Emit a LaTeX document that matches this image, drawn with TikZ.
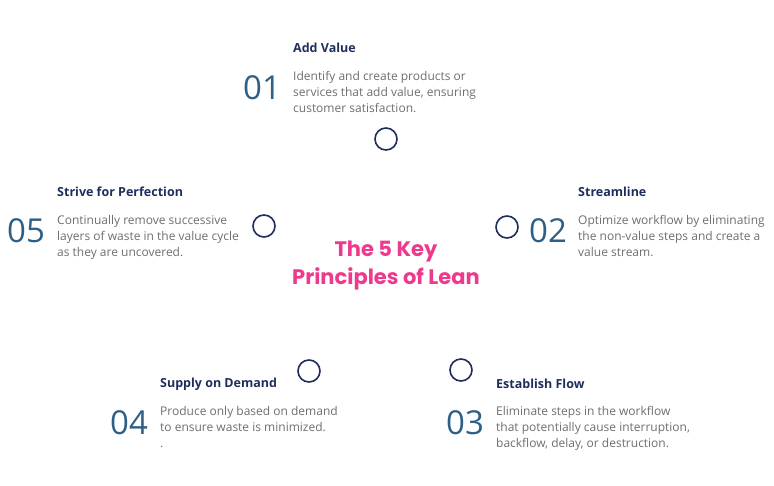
\documentclass[tikz,border=0pt]{standalone}
\usepackage{fontspec}
\setmainfont{Open Sans}
\newfontfamily\titlefont{Poppins}
\usetikzlibrary{positioning}
\definecolor{navy}{HTML}{1F2D5E}
\definecolor{numblue}{HTML}{2E5F86}
\definecolor{bodygray}{HTML}{6E6E6E}
\definecolor{leanpink}{HTML}{EE3A8C}
\pgfdeclareradialshading{ball}{\pgfpoint{0bp}{0bp}}{color(0bp)=(white); color(30bp)=(white); color(40bp)=(navy!25); color(46bp)=(navy!70); color(50bp)=(navy)}
\begin{document}
\begin{tikzpicture}[x=1pt,y=-1pt,
  head/.style={anchor=west,font=\bfseries\fontsize{12.5}{14}\selectfont,text=navy,inner sep=0pt},
  num/.style={anchor=west,font=\fontsize{33}{33}\selectfont,text=numblue,inner sep=0pt},
  body/.style={anchor=north west,align=left,font=\fontsize{12}{16}\selectfont,text=bodygray,inner sep=0pt},
  dot/.style={circle,draw=navy,line width=1.6pt,fill=white,minimum size=22pt,inner sep=0pt}]
  \useasboundingbox (0,0) rectangle (774,486);
  \node (ring) [circle,minimum size=258pt,inner sep=0pt,shade,shading=ball] at (386.5,267.5) {};
  \node (title) [align=center,font=\titlefont\bfseries\fontsize{21}{28}\selectfont,text=leanpink] at (386,266) {The 5 Key\\Principles of Lean};
  % markers on the ring
  \node (d1) [dot] at (386,139) {};
  \node (d2) [dot] at (507,227) {};
  \node (d3) [dot] at (461,370) {};
  \node (d4) [dot] at (309,371) {};
  \node (d5) [dot] at (264,226) {};
  % 01
  \node (h1) [head] at (293,48) {Add Value};
  \node (n1) [num] at (243,88) {01};
  \node (b1) [body] at (293,71) {Identify and create products or\\services that add value, ensuring\\customer satisfaction.};
  % 02
  \node (h2) [head] at (578,192) {Streamline};
  \node (n2) [num] at (529,231) {02};
  \node (b2) [body] at (578,215) {Optimize workflow by eliminating\\the non-value steps and create a\\value stream.};
  % 03
  \node (h3) [head] at (496,384) {Establish Flow};
  \node (n3) [num] at (446,423) {03};
  \node (b3) [body] at (496,406) {Eliminate steps in the workflow\\that potentially cause interruption,\\backflow, delay, or destruction.};
  % 04
  \node (h4) [head] at (160,384) {Supply on Demand};
  \node (n4) [num] at (110,423) {04};
  \node (b4) [body] at (160,406) {Produce only based on demand\\to ensure waste is minimized.\\.};
  % 05
  \node (h5) [head] at (57,192) {Strive for Perfection};
  \node (n5) [num] at (7,231) {05};
  \node (b5) [body] at (57,215) {Continually remove successive\\layers of waste in the value cycle\\as they are uncovered.};
\end{tikzpicture}
\end{document}
